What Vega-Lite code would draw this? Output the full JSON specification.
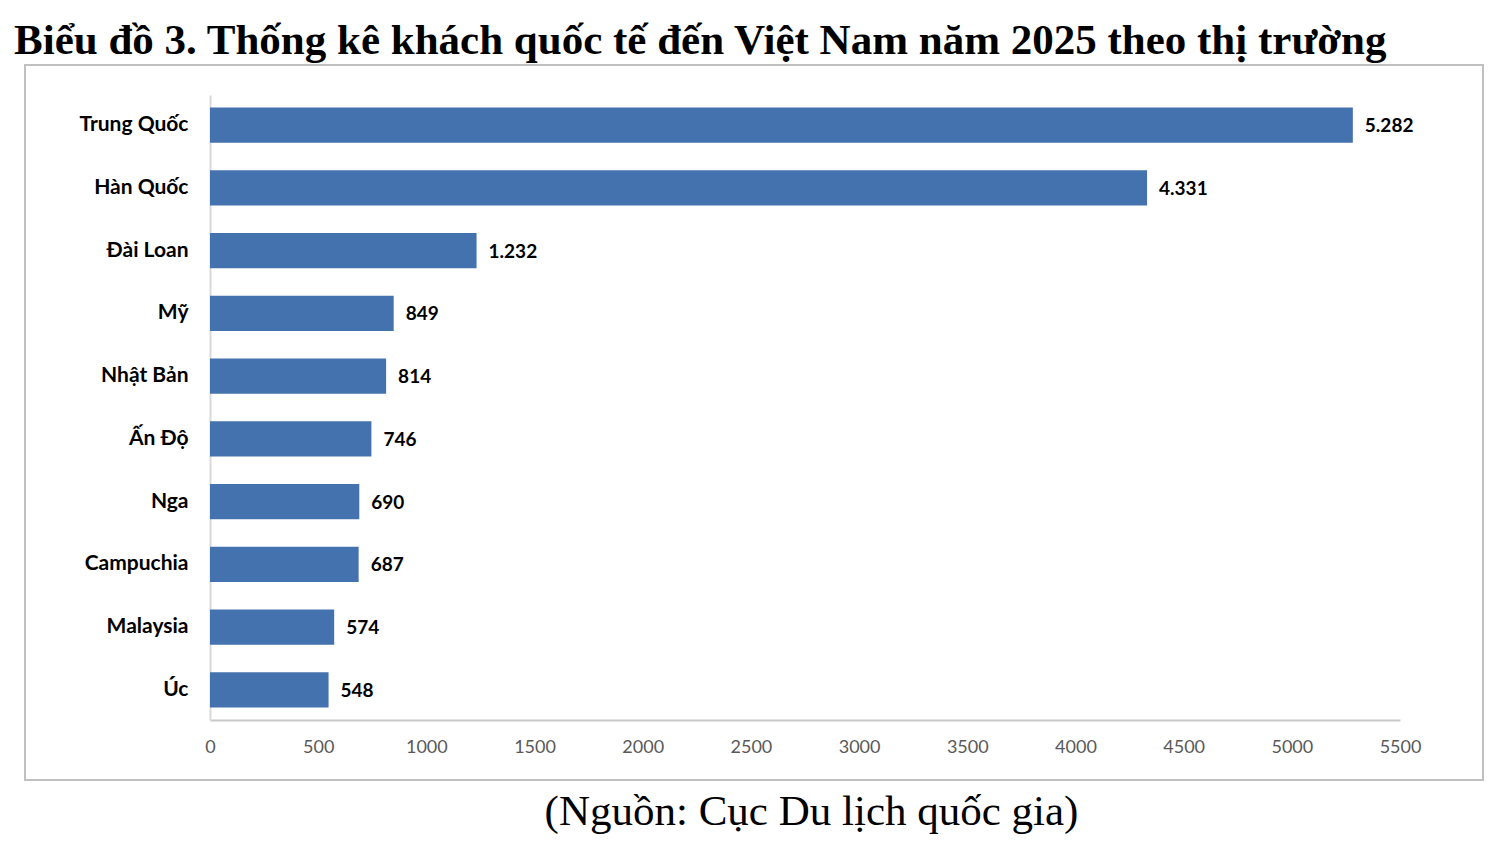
{
  "$schema": "https://vega.github.io/schema/vega-lite/v6.json",
  "width": 1190,
  "height": 625,
  "autosize": {"type": "none"},
  "padding": {"left": 210, "top": 95, "right": 100, "bottom": 124},
  "background": "white",
  "config": {
    "view": {"stroke": null},
    "locale": {"number": {"decimal": ",", "thousands": ".", "grouping": [3], "currency": ["", ""]}}
  },
  "title": {
    "text": "Biểu đồ 3. Thống kê khách quốc tế đến Việt Nam năm 2025 theo thị trường",
    "anchor": "start",
    "frame": "group",
    "dx": -196,
    "dy": 43,
    "offset": 10,
    "baseline": "alphabetic",
    "font": "Liberation Serif",
    "fontSize": 43,
    "fontWeight": "bold",
    "color": "#000000"
  },
  "data": {
    "values": [
      {"market": "Trung Quốc", "visitors": 5282},
      {"market": "Hàn Quốc", "visitors": 4331},
      {"market": "Đài Loan", "visitors": 1232},
      {"market": "Mỹ", "visitors": 849},
      {"market": "Nhật Bản", "visitors": 814},
      {"market": "Ấn Độ", "visitors": 746},
      {"market": "Nga", "visitors": 690},
      {"market": "Campuchia", "visitors": 687},
      {"market": "Malaysia", "visitors": 574},
      {"market": "Úc", "visitors": 548}
    ]
  },
  "layer": [
    {
      "data": {"values": [{}]},
      "mark": {"type": "rect", "fill": null, "stroke": "#c0c0c0", "strokeWidth": 2},
      "encoding": {
        "x": {"value": -185},
        "x2": {"value": 1273},
        "y": {"value": -30},
        "y2": {"value": 685}
      }
    },
    {
      "mark": {"type": "bar", "color": "#4472ae"},
      "encoding": {
        "y": {
          "field": "market",
          "type": "nominal",
          "sort": null,
          "scale": {"paddingInner": 0.44, "paddingOuter": 0.2},
          "axis": {
            "title": null,
            "ticks": false,
            "domainColor": "#d9d9d9",
            "domainWidth": 2,
            "labelFont": "Lato",
            "labelFontWeight": "bold",
            "labelFontSize": 21,
            "labelColor": "#000000",
            "labelPadding": 22
          }
        },
        "x": {
          "field": "visitors",
          "type": "quantitative",
          "scale": {"domain": [0, 5500], "nice": false},
          "axis": {
            "values": [0, 500, 1000, 1500, 2000, 2500, 3000, 3500, 4000, 4500, 5000, 5500],
            "format": "d",
            "grid": false,
            "ticks": false,
            "domainColor": "#c8c8c8",
            "domainWidth": 2,
            "labelFont": "Lato",
            "labelFontSize": 18,
            "labelColor": "#595959",
            "labelPadding": 18,
            "labelFlush": false,
            "title": "(Nguồn: Cục Du lịch quốc gia)",
            "titleFont": "Liberation Serif",
            "titleFontSize": 43,
            "titleFontWeight": "normal",
            "titleColor": "#000000",
            "titleX": 601,
            "titleY": 104,
            "titleAlign": "center",
            "titleBaseline": "alphabetic"
          }
        }
      }
    },
    {
      "mark": {"type": "text", "align": "left", "baseline": "middle", "dx": 12, "dy": 1, "font": "Lato", "fontWeight": "bold", "fontSize": 19, "color": "#000000"},
      "encoding": {
        "y": {"field": "market", "type": "nominal", "sort": null},
        "x": {"field": "visitors", "type": "quantitative"},
        "text": {"field": "visitors", "type": "quantitative", "format": ",d"}
      }
    }
  ]
}
